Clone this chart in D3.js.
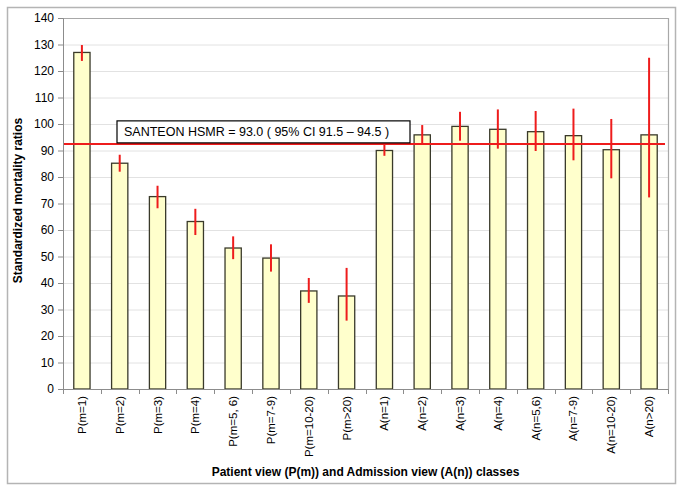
<!DOCTYPE html>
<html>
<head>
<meta charset="utf-8">
<script src="https://cdn.jsdelivr.net/npm/d3@7"></script>
<style>
  body { margin: 0; background: #fff; }
  svg text { font-family: Arial, "Liberation Sans", sans-serif; fill: #000; }
</style>
</head>
<body>
<div id="chart"></div>
<script>
// data
const categories = ['P(m=1)', 'P(m=2)', 'P(m=3)', 'P(m=4)', 'P(m=5, 6)', 'P(m=7-9)', 'P(m=10-20)', 'P(m>20)',
  'A(n=1)', 'A(n=2)', 'A(n=3)', 'A(n=4)', 'A(n=5,6)', 'A(n=7-9)', 'A(n=10-20)', 'A(n>20)']
const smr = [127, 85.2, 72.6, 63.2, 53.2, 49.4, 37, 35.1, 90, 95.9, 99.1, 98, 97.1, 95.6, 90.3, 95.9]
const ciLow = [123.8, 82, 68.2, 58.1, 49, 44.3, 32.5, 25.8, 88, 92.3, 93.7, 90.7, 89.8, 86.3, 79.5, 72.3]
const ciHigh = [129.8, 88.4, 76.7, 68, 57.6, 54.6, 41.9, 45.7, 92.5, 99.6, 104.6, 105.5, 104.9, 105.8, 101.9, 125]
const yTicks = [0, 10, 20, 30, 40, 50, 60, 70, 80, 90, 100, 110, 120, 130, 140]
const hsmr = 92.5
const hsmrLabel = 'SANTEON HSMR = 93.0 ( 95% CI 91.5 \u2013 94.5 )'

const width = 685, height = 493
const margin = { top: 18, right: 17, bottom: 104, left: 63 }
const w = width - margin.left - margin.right
const h = height - margin.top - margin.bottom

const svg = d3.select('#chart').append('svg')
  .attr('width', width).attr('height', height)

// outer frame
svg.append('rect')
  .attr('x', 7.5).attr('y', 7.5).attr('width', 668).attr('height', 476)
  .attr('fill', '#fff').attr('stroke', '#b4b4b4').attr('stroke-width', 1.5)

const g = svg.append('g').attr('transform', `translate(${margin.left},${margin.top})`)

const x = d3.scaleBand().domain(categories).range([0, w]).paddingInner(0.57).paddingOuter(0.285)
const y = d3.scaleLinear().domain([0, 140]).range([h, 0])

// gridlines
g.append('g').selectAll('line').data(yTicks.slice(1)).enter().append('line')
  .attr('x1', 0).attr('x2', w)
  .attr('y1', d => y(d) + 0.5).attr('y2', d => y(d) + 0.5)
  .attr('stroke', '#e2e2e2').attr('stroke-width', 1)

// plot area border (top, right)
g.append('path')
  .attr('d', `M0,0.5H${w + 0.5}V${h}`)
  .attr('fill', 'none').attr('stroke', '#a8a8a8').attr('stroke-width', 1.2)

// bars
g.selectAll('.bar').data(smr).enter().append('rect')
  .attr('class', 'bar')
  .attr('x', (d, i) => x(categories[i]))
  .attr('width', x.bandwidth())
  .attr('y', d => y(d))
  .attr('height', d => h - y(d))
  .attr('fill', '#ffffcc').attr('stroke', '#3a3a2a').attr('stroke-width', 1.3)

// HSMR reference line
g.append('line')
  .attr('x1', 0).attr('x2', w - 3)
  .attr('y1', y(hsmr)).attr('y2', y(hsmr))
  .attr('stroke', '#ee1c1c').attr('stroke-width', 2)

// error bars
g.selectAll('.err').data(smr).enter().append('line')
  .attr('class', 'err')
  .attr('x1', (d, i) => x(categories[i]) + x.bandwidth() / 2)
  .attr('x2', (d, i) => x(categories[i]) + x.bandwidth() / 2)
  .attr('y1', (d, i) => y(ciHigh[i]))
  .attr('y2', (d, i) => y(ciLow[i]))
  .attr('stroke', '#ee1c1c').attr('stroke-width', 2)

// label box
const box = g.append('g').attr('transform', `translate(54,${y(hsmr) - 23})`)
box.append('rect')
  .attr('x', 0).attr('y', 0).attr('width', 293).attr('height', 22)
  .attr('fill', '#fff').attr('stroke', '#000').attr('stroke-width', 1.2)
box.append('text')
  .attr('x', 7).attr('y', 15.5)
  .attr('font-size', 12.5)
  .text(hsmrLabel)

// y axis
const yAxis = g.append('g')
  .call(d3.axisLeft(y).tickValues(yTicks).tickSize(5).tickPadding(4))
yAxis.select('.domain').attr('stroke', '#8c8c8c')
yAxis.selectAll('.tick line').attr('stroke', '#8c8c8c')
yAxis.selectAll('.tick text').attr('font-size', 12).attr('font-family', 'Arial, "Liberation Sans", sans-serif')

// x axis: ticks at category boundaries
const xAxis = g.append('g').attr('transform', `translate(0,${h})`)
xAxis.append('line')
  .attr('x1', 0).attr('x2', w).attr('y1', 0.5).attr('y2', 0.5)
  .attr('stroke', '#8c8c8c')
const step = x.step()
xAxis.selectAll('.bt').data(d3.range(categories.length + 1)).enter().append('line')
  .attr('x1', i => Math.round(x(categories[0]) - x.paddingInner() * step / 2 + i * step) + 0.5)
  .attr('x2', i => Math.round(x(categories[0]) - x.paddingInner() * step / 2 + i * step) + 0.5)
  .attr('y1', 0).attr('y2', 5)
  .attr('stroke', '#8c8c8c')
xAxis.selectAll('.lbl').data(categories).enter().append('text')
  .attr('transform', d => `translate(${x(d) + x.bandwidth() / 2 + 4},7) rotate(-90)`)
  .attr('text-anchor', 'end')
  .attr('font-size', 11.5)
  .text(d => d)

// axis titles
svg.append('text')
  .attr('transform', `translate(22,${margin.top + h / 2 - 3}) rotate(-90)`)
  .attr('text-anchor', 'middle')
  .attr('font-size', 12).attr('font-weight', 'bold')
  .text('Standardized mortality ratios')

svg.append('text')
  .attr('x', margin.left + w / 2).attr('y', 476)
  .attr('text-anchor', 'middle')
  .attr('font-size', 12).attr('font-weight', 'bold')
  .text('Patient view (P(m)) and Admission view (A(n)) classes')
</script>
</body>
</html>
